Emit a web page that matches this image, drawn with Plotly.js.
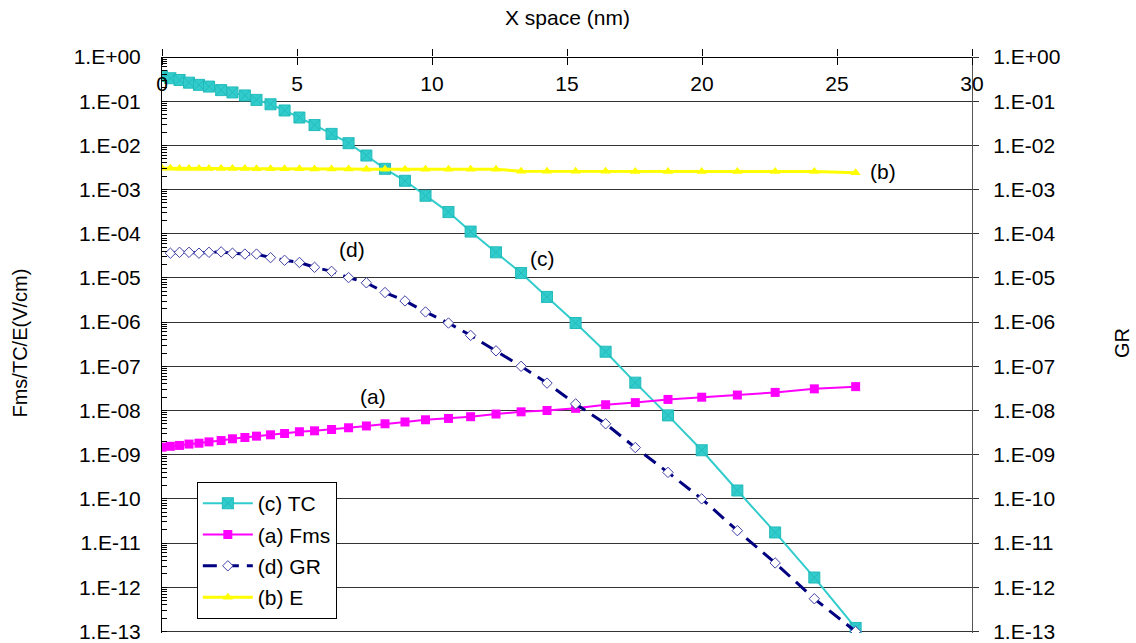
<!DOCTYPE html>
<html>
<head>
<meta charset="utf-8">
<script src="https://cdn.plot.ly/plotly-3.0.1.min.js"></script>
<style>
  html, body { margin: 0; padding: 0; background: #fff; }
  #chart { width: 1136px; height: 643px; }
</style>
</head>
<body>
<div id="chart"></div>
<script>
// Position along the device (nm), shared mesh for all curves
const xNm = [0, 0.31, 0.65, 1.0, 1.37, 1.74, 2.19, 2.61, 3.07, 3.5, 4.02, 4.54, 5.09, 5.65,
  6.28, 6.91, 7.57, 8.26, 9.0, 9.76, 10.61, 11.43, 12.37, 13.3, 14.26, 15.32, 16.43,
  17.53, 18.74, 19.99, 21.31, 22.71, 24.16, 25.69];

// (c) TC
const tcValues = [0.372, 0.331, 0.302, 0.263, 0.234, 0.214, 0.178, 0.158, 0.135, 0.107,
  0.0851, 0.0617, 0.0427, 0.0288, 0.0182, 0.0112, 5.89e-3, 2.95e-3, 1.58e-3, 7.24e-4,
  3.09e-4, 1.12e-4, 3.80e-5, 1.29e-5, 3.72e-6, 9.55e-7, 2.14e-7, 4.27e-8, 7.76e-9,
  1.26e-9, 1.55e-10, 1.74e-11, 1.66e-12, 1.20e-13];

// (a) Fms
const fmsValues = [1.48e-9, 1.55e-9, 1.62e-9, 1.74e-9, 1.82e-9, 1.95e-9, 2.09e-9, 2.29e-9,
  2.45e-9, 2.63e-9, 2.82e-9, 3.02e-9, 3.31e-9, 3.47e-9, 3.72e-9, 4.07e-9, 4.47e-9, 5.01e-9,
  5.50e-9, 6.17e-9, 6.61e-9, 7.24e-9, 8.32e-9, 9.33e-9, 1.0e-8, 1.12e-8, 1.35e-8, 1.51e-8,
  1.78e-8, 2.0e-8, 2.24e-8, 2.57e-8, 3.09e-8, 3.47e-8];

// (d) GR (no value at the first mesh point)
const grValues = [null, 3.63e-5, 3.80e-5, 3.80e-5, 3.63e-5, 3.80e-5, 3.89e-5, 3.63e-5, 3.47e-5,
  3.47e-5, 2.88e-5, 2.51e-5, 2.24e-5, 1.74e-5, 1.41e-5, 1.02e-5, 7.76e-6, 4.68e-6, 3.02e-6,
  1.70e-6, 9.55e-7, 5.01e-7, 2.24e-7, 1.0e-7, 4.17e-8, 1.41e-8, 5.01e-9, 1.45e-9, 3.98e-10,
  1.0e-10, 1.91e-11, 3.55e-12, 5.50e-13, 1.0e-13];

// (b) E
const eValues = [3.02e-3, 3.02e-3, 3.0e-3, 3.0e-3, 3.0e-3, 3.0e-3, 3.0e-3, 2.98e-3, 2.98e-3,
  2.95e-3, 2.95e-3, 2.95e-3, 2.95e-3, 2.92e-3, 2.92e-3, 2.92e-3, 2.9e-3, 2.9e-3, 2.88e-3,
  2.88e-3, 2.88e-3, 2.88e-3, 2.88e-3, 2.6e-3, 2.6e-3, 2.6e-3, 2.6e-3, 2.57e-3, 2.57e-3,
  2.57e-3, 2.57e-3, 2.57e-3, 2.55e-3, 2.4e-3];

// Decade ticks in spreadsheet-style scientific notation
const yTickVals = [1, 1e-1, 1e-2, 1e-3, 1e-4, 1e-5, 1e-6, 1e-7, 1e-8, 1e-9, 1e-10, 1e-11, 1e-12, 1e-13];
const yTickText = ['1.E+00', '1.E-01', '1.E-02', '1.E-03', '1.E-04', '1.E-05', '1.E-06',
  '1.E-07', '1.E-08', '1.E-09', '1.E-10', '1.E-11', '1.E-12', '1.E-13'];

const FONT = 'Liberation Sans, Arial, sans-serif';
// slight headroom below the last decade so its grid line is kept
const Y_RANGE = [-13.035, 0];

const traces = [
  {
    name: '(c) TC', x: xNm, y: tcValues, type: 'scatter', mode: 'lines+markers',
    legendgroup: 'tc',
    line: { color: '#33CCCC', width: 2 },
    marker: { symbol: 'square-x', size: 11, color: '#33CCCC', line: { color: '#22BBBB', width: 1 } }
  },
  {
    name: '(a) Fms', x: xNm, y: fmsValues, type: 'scatter', mode: 'lines+markers',
    legendgroup: 'fms',
    line: { color: '#FF00FF', width: 2 },
    marker: { symbol: 'square', size: 9, color: '#FF00FF' }
  },
  {
    name: '(d) GR', x: xNm, y: grValues, type: 'scatter', mode: 'lines+markers',
    legendgroup: 'gr', xaxis: 'x2', yaxis: 'y2',
    line: { color: '#000080', width: 3, dash: '14px,8px' },
    marker: { symbol: 'diamond', size: 8, color: '#FFFFFF', line: { color: '#4040A8', width: 1 } }
  },
  {
    name: '(b) E', x: xNm, y: eValues, type: 'scatter', mode: 'lines+markers',
    legendgroup: 'e',
    line: { color: '#FFFF00', width: 3 },
    marker: { symbol: 'triangle-up', size: 9, color: '#FFFF00' }
  }
];

const curveLabel = (text, x, logY) => ({
  text: text, x: x, y: logY, xref: 'x', yref: 'y', showarrow: false,
  font: { family: FONT, size: 21, color: '#000' }
});

const layout = {
  width: 1136, height: 643,
  margin: { l: 162, r: 164, t: 57, b: 10 },
  paper_bgcolor: '#FFFFFF', plot_bgcolor: '#FFFFFF',
  font: { family: FONT, size: 21, color: '#000' },
  showlegend: true,
  legend: {
    x: 0.043, y: 0.262, xanchor: 'left', yanchor: 'top',
    bgcolor: '#FFFFFF', bordercolor: '#000', borderwidth: 1,
    font: { family: FONT, size: 21, color: '#000' },
    itemwidth: 50, tracegroupgap: 1
  },
  xaxis: {
    range: [0, 30], tick0: 0, dtick: 5,
    side: 'bottom', anchor: 'free', position: 1,
    showline: true, linecolor: '#000', linewidth: 1,
    ticks: 'outside', ticklen: 7, tickcolor: '#000', tickwidth: 1,
    ticklabelstandoff: 1,
    showgrid: false, zeroline: false
  },
  xaxis2: {
    range: [0, 30], tick0: 0, dtick: 5, overlaying: 'x', side: 'top', anchor: 'y2',
    showline: false, ticks: 'outside', ticklen: 7, tickcolor: '#000',
    showticklabels: false, showgrid: false, zeroline: false
  },
  yaxis: {
    type: 'log', range: Y_RANGE,
    tickvals: yTickVals, ticktext: yTickText, ticklabeloverflow: 'allow',
    showgrid: true, gridcolor: '#333333', gridwidth: 1,
    showline: true, linecolor: '#000', linewidth: 1,
    ticks: '', ticklabelstandoff: 16, zeroline: false,
    minor: { ticks: 'inside', ticklen: 5, tickcolor: '#000', dtick: 'D1', showgrid: false }
  },
  yaxis2: {
    type: 'log', range: Y_RANGE, overlaying: 'y', side: 'right', anchor: 'x2',
    tickvals: yTickVals, ticktext: yTickText, ticklabeloverflow: 'allow',
    showgrid: false, showline: true, linecolor: '#555555', linewidth: 1,
    ticks: 'outside', ticklen: 6, tickcolor: '#333', ticklabelstandoff: 10, zeroline: false
  },
  annotations: [
    { text: 'X space (nm)', xref: 'paper', yref: 'paper', x: 0.5, y: 1.068,
      xanchor: 'center', yanchor: 'middle',
      showarrow: false, font: { family: FONT, size: 21 } },
    { text: 'Fms/TC/E(V/cm)', xref: 'paper', yref: 'paper', x: -0.175, y: 0.503,
      xanchor: 'center', yanchor: 'middle',
      textangle: -90, showarrow: false, font: { family: FONT, size: 20 } },
    { text: 'GR', xref: 'paper', yref: 'paper', x: 1.185, y: 0.503,
      xanchor: 'center', yanchor: 'middle',
      textangle: -90, showarrow: false, font: { family: FONT, size: 20 } },
    curveLabel('(b)', 26.7, -2.6),
    curveLabel('(c)', 14.1, -4.57),
    curveLabel('(d)', 7.04, -4.36),
    curveLabel('(a)', 7.81, -7.69)
  ]
};

Plotly.newPlot('chart', traces, layout, { staticPlot: true, displayModeBar: false });
</script>
</body>
</html>
